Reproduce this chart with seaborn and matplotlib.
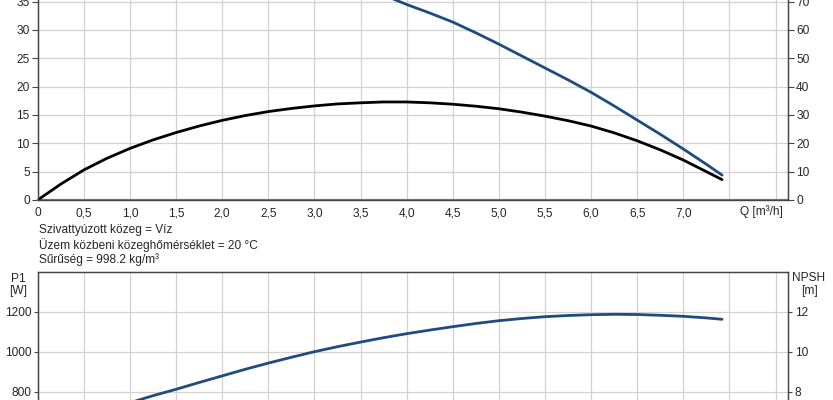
import numpy as np
import pandas as pd
import matplotlib
matplotlib.use("Agg")
import matplotlib.pyplot as plt
import seaborn as sns

# ---- data ----
q_head = [3.85, 4.0, 4.25, 4.5, 4.75, 5.0, 5.25, 5.5, 5.75, 6.0, 6.25, 6.5, 6.75, 7.0, 7.25, 7.42]
head_m = [35.5, 34.5, 33.0, 31.4, 29.5, 27.5, 25.4, 23.3, 21.2, 19.0, 16.6, 14.1, 11.6, 9.0, 6.3, 4.4]

q_eta = [0.0, 0.25, 0.5, 0.75, 1.0, 1.25, 1.5, 1.75, 2.0, 2.25, 2.5, 2.75, 3.0, 3.25,
         3.5, 3.75, 4.0, 4.25, 4.5, 4.75, 5.0, 5.25, 5.5, 5.75, 6.0, 6.25, 6.5, 6.75,
         7.0, 7.25, 7.42]
eta_pct = [0.0, 5.6, 10.6, 14.7, 18.2, 21.2, 23.8, 26.1, 28.1, 29.8, 31.2, 32.3, 33.2, 33.9,
           34.3, 34.6, 34.6, 34.3, 33.8, 33.1, 32.2, 31.0, 29.6, 28.0, 26.1, 23.7, 20.9, 17.7,
           14.1, 10.0, 7.2]

q_p1 = [1.0, 1.25, 1.5, 1.75, 2.0, 2.25, 2.5, 2.75, 3.0, 3.25, 3.5, 3.75, 4.0, 4.25, 4.5,
        4.75, 5.0, 5.25, 5.5, 5.75, 6.0, 6.25, 6.5, 6.75, 7.0, 7.25, 7.42]
p1_w = [745, 780, 812, 846, 879, 912, 943, 972, 1000, 1025, 1048, 1070, 1090, 1108, 1125,
        1141, 1155, 1166, 1175, 1181, 1185, 1187, 1186, 1182, 1177, 1169, 1162]

q_ticks = [0, 0.5, 1.0, 1.5, 2.0, 2.5, 3.0, 3.5, 4.0, 4.5, 5.0, 5.5, 6.0, 6.5, 7.0, 7.5, 8.0]
q_labels = ["0", "0,5", "1,0", "1,5", "2,0", "2,5", "3,0", "3,5", "4,0", "4,5",
            "5,0", "5,5", "6,0", "6,5", "7,0", "", ""]
h_ticks = [0, 5, 10, 15, 20, 25, 30, 35]
eta_ticks = [0, 10, 20, 30, 40, 50, 60, 70]
p1_ticks = [800, 1000, 1200]
npsh_ticks = [8, 10, 12]
info_lines = ["Szivattyúzott közeg = Víz",
              "Üzem közbeni közeghőmérséklet = 20 °C",
              "Sűrűség = 998.2 kg/m³"]

sns.set_style("white")
plt.rcParams["font.family"] = ["Liberation Sans", "DejaVu Sans"]
FS = 8.6
plt.rcParams["font.size"] = FS

BLUE = "#1f4c7c"
GRID = "#d2d2d2"
SPINE = "#444444"
W, H = 833, 400

fig = plt.figure(figsize=(8.33, 4.0), dpi=100)

x0 = 37.7 / W
wid = 750.6 / W
xmax = 750.6 / 92.23

# ---------- top panel ----------
ax1 = fig.add_axes([x0, 0.5, wid, 226.7 / H])
ax1.set_xlim(0, xmax)
ax1.set_ylim(0, 40)
ax1r = ax1.twinx()
ax1r.set_ylim(0, 80)

sns.lineplot(x=q_head, y=head_m, ax=ax1, color=BLUE, linewidth=2.0, sort=False,
             solid_joinstyle="round")
sns.lineplot(x=q_eta, y=eta_pct, ax=ax1r, color="black", linewidth=2.0, sort=False,
             solid_joinstyle="round")

ax1.set_xticks(q_ticks)
ax1.set_xticklabels(q_labels)
ax1.set_yticks(h_ticks)
ax1r.set_yticks(eta_ticks)
ax1.grid(True, color=GRID, linewidth=0.9)
ax1.set_axisbelow(True)
ax1.tick_params(axis="x", length=3, width=0.8, pad=2.2, color=SPINE, labelsize=FS)
ax1.tick_params(axis="y", length=4.3, width=0.8, pad=1.5, color=SPINE, labelsize=FS)
ax1r.tick_params(axis="y", length=4.5, width=0.8, pad=1.2, color=SPINE, labelsize=FS)
for a in (ax1, ax1r):
    a.set_xlabel("")
    a.set_ylabel("")
    for s in a.spines.values():
        s.set_color(SPINE)
        s.set_linewidth(0.9)
ax1.spines["bottom"].set_color("#777777")
ax1.spines["bottom"].set_linewidth(1.6)

fig.text(761.7 / W, 1 - 211.7 / H, "Q [m³/h]", ha="center", va="center", fontsize=FS)

for i, line in enumerate(info_lines):
    fig.text(39.3 / W, 1 - (230 + 14.7 * i) / H, line, ha="left", va="center", fontsize=FS)

# ---------- bottom panel ----------
top_px = 271.7
ax2 = fig.add_axes([x0, (H - (top_px + 280)) / H, wid, 280 / H])
ax2.set_xlim(0, xmax)
ax2.set_ylim(0, 1400)
ax2r = ax2.twinx()
ax2r.set_ylim(0, 14)

sns.lineplot(x=q_p1, y=p1_w, ax=ax2, color=BLUE, linewidth=2.0, sort=False,
             solid_joinstyle="round")

ax2.set_xticks(q_ticks)
ax2.set_xticklabels([])
ax2.set_yticks(p1_ticks)
ax2r.set_yticks(npsh_ticks)
ax2.grid(True, color=GRID, linewidth=0.9)
ax2.set_axisbelow(True)
ax2.tick_params(axis="y", length=3, width=0.8, pad=1.2, color=SPINE, labelsize=FS)
ax2r.tick_params(axis="y", length=3, width=0.8, pad=1.5, color=SPINE, labelsize=FS)
for a in (ax2, ax2r):
    a.set_xlabel("")
    a.set_ylabel("")
    for s in a.spines.values():
        s.set_color(SPINE)
        s.set_linewidth(0.9)

fig.text(18 / W, 1 - 285 / H, "P1\n[W]", ha="center", va="center", fontsize=FS,
         linespacing=1.1)
fig.text(809 / W, 1 - 284.5 / H, "NPSH\n[m]", ha="center", va="center", fontsize=FS,
         linespacing=1.1)

fig.savefig("out.png", dpi=100)
